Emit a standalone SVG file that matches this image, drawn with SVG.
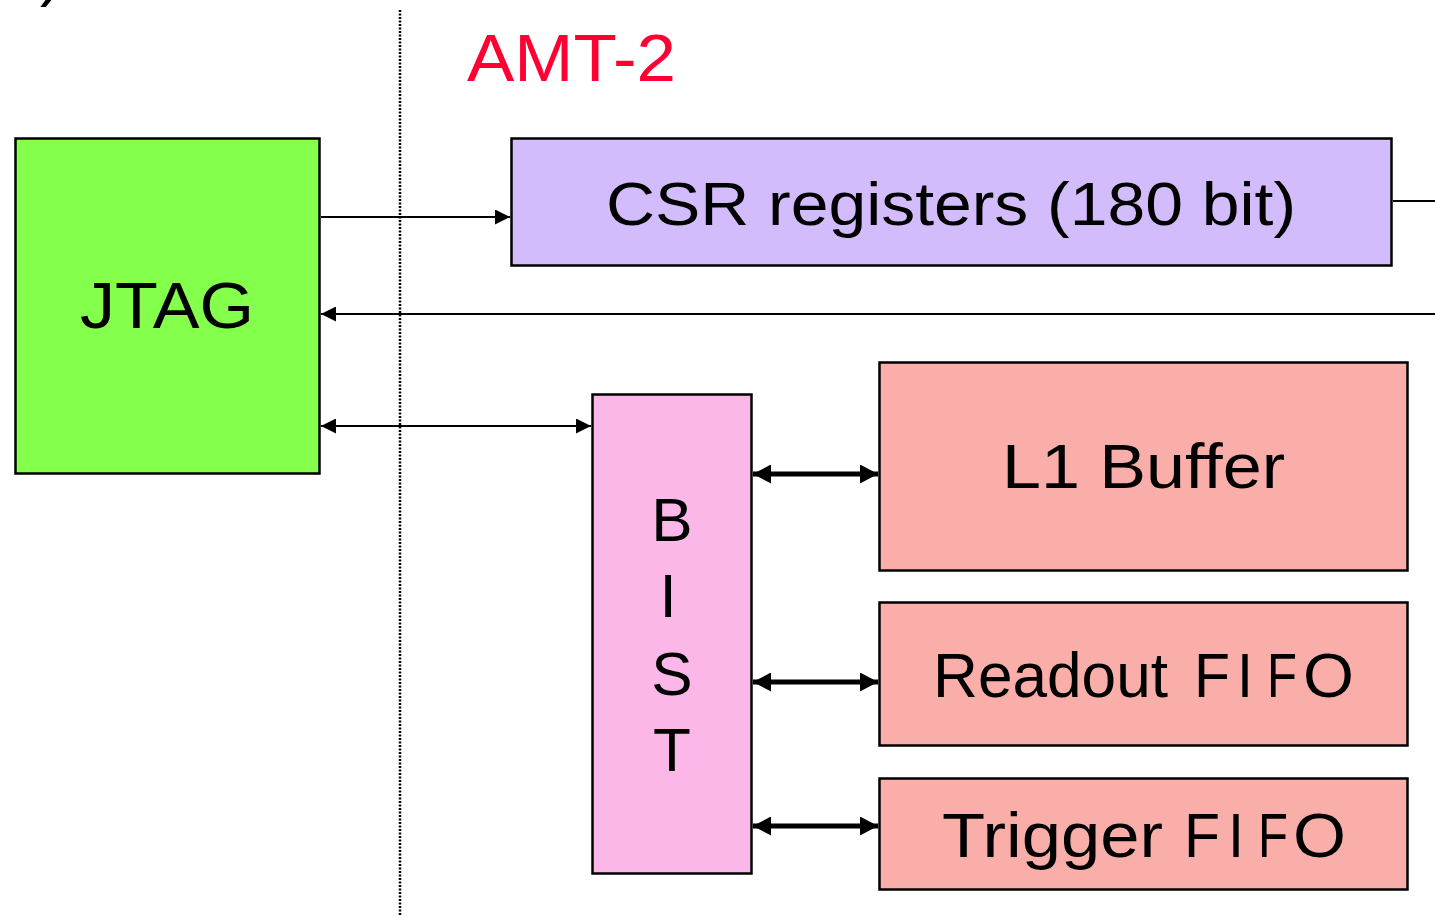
<svg xmlns="http://www.w3.org/2000/svg" width="1435" height="916" viewBox="0 0 1435 916">
<style>
.box{stroke:#000;stroke-width:2.5}
.lbl{font-family:"Liberation Sans",Arial,sans-serif;fill:#000}
.ln{stroke:#000;stroke-width:2.2;fill:none}
.thick{stroke:#000;stroke-width:5;fill:none}
</style>
<defs>
<marker id="ah" markerUnits="userSpaceOnUse" markerWidth="16" markerHeight="15" refX="15" refY="7.5" orient="auto-start-reverse">
<path d="M0,0 L15,7.5 L0,15 Z" fill="#000"/>
</marker>
<marker id="ahb" markerUnits="userSpaceOnUse" markerWidth="19" markerHeight="19" refX="18" refY="9.5" orient="auto-start-reverse">
<path d="M0,0 L18,9.5 L0,19 Z" fill="#000"/>
</marker>
</defs>
<rect width="1435" height="916" fill="#fff"/>
<text x="40" y="-6" class="lbl" font-size="64">)</text>
<line x1="400" y1="10" x2="400" y2="916" stroke="#000" stroke-width="2.5" stroke-dasharray="2 1.5"/>
<text id="title" x="467" y="81" font-family="Liberation Sans,Arial,sans-serif" font-size="66" fill="#FF0033" textLength="209" lengthAdjust="spacingAndGlyphs">AMT-2</text>
<g id="connectors">
<line class="ln" x1="321" y1="217" x2="510" y2="217" marker-end="url(#ah)"/>
<line class="ln" x1="1435" y1="314" x2="321" y2="314" marker-end="url(#ah)"/>
<line class="ln" x1="1393" y1="201" x2="1435" y2="201"/>
<line class="ln" x1="321" y1="426" x2="591" y2="426" marker-start="url(#ah)" marker-end="url(#ah)"/>
<line class="thick" x1="753" y1="474" x2="878" y2="474" marker-start="url(#ahb)" marker-end="url(#ahb)"/>
<line class="thick" x1="753" y1="682" x2="878" y2="682" marker-start="url(#ahb)" marker-end="url(#ahb)"/>
<line class="thick" x1="753" y1="826" x2="878" y2="826" marker-start="url(#ahb)" marker-end="url(#ahb)"/>
</g>
<g id="jtag">
<rect class="box" x="15.5" y="138.5" width="304" height="335" fill="#83FF4C"/>
<text class="lbl" x="80" y="328" font-size="64" textLength="174" lengthAdjust="spacingAndGlyphs">JTAG</text>
</g>
<g id="csr">
<rect class="box" x="511.5" y="138.5" width="880" height="127" fill="#D3BCFC"/>
<text class="lbl" x="606" y="225" font-size="62" textLength="690" lengthAdjust="spacingAndGlyphs">CSR registers (180 bit)</text>
</g>
<g id="bist">
<rect class="box" x="592.5" y="394.5" width="159" height="479" fill="#FBB7E7"/>
<text class="lbl" font-size="62" text-anchor="middle"><tspan x="672" y="541">B</tspan><tspan x="668" y="617">I</tspan><tspan x="672" y="695">S</tspan><tspan x="672" y="771">T</tspan></text>
</g>
<g id="l1buffer">
<rect class="box" x="879.5" y="362.5" width="528" height="208" fill="#FAAEAA"/>
<text class="lbl" x="1002" y="488" font-size="63" textLength="283" lengthAdjust="spacingAndGlyphs">L1 Buffer</text>
</g>
<g id="readoutfifo">
<rect class="box" x="879.5" y="602.5" width="528" height="143" fill="#FAAEAA"/>
<text class="lbl" x="933" y="697" font-size="63" textLength="235" lengthAdjust="spacingAndGlyphs">Readout</text>
<text class="lbl" x="1194" y="697" font-size="63" textLength="36" lengthAdjust="spacingAndGlyphs">F</text>
<text class="lbl" x="1237" y="697" font-size="63" textLength="16" lengthAdjust="spacingAndGlyphs">I</text>
<text class="lbl" x="1267" y="697" font-size="63" textLength="30" lengthAdjust="spacingAndGlyphs">F</text>
<text class="lbl" x="1303" y="697" font-size="63" textLength="51" lengthAdjust="spacingAndGlyphs">O</text>
</g>
<g id="triggerfifo">
<rect class="box" x="879.5" y="778.5" width="528" height="111" fill="#FAAEAA"/>
<text class="lbl" x="942" y="857" font-size="63" textLength="221" lengthAdjust="spacingAndGlyphs">Trigger</text>
<text class="lbl" x="1184" y="857" font-size="63" textLength="36" lengthAdjust="spacingAndGlyphs">F</text>
<text class="lbl" x="1228" y="857" font-size="63" textLength="16" lengthAdjust="spacingAndGlyphs">I</text>
<text class="lbl" x="1258" y="857" font-size="63" textLength="30" lengthAdjust="spacingAndGlyphs">F</text>
<text class="lbl" x="1293" y="857" font-size="63" textLength="53" lengthAdjust="spacingAndGlyphs">O</text>
</g>
</svg>
